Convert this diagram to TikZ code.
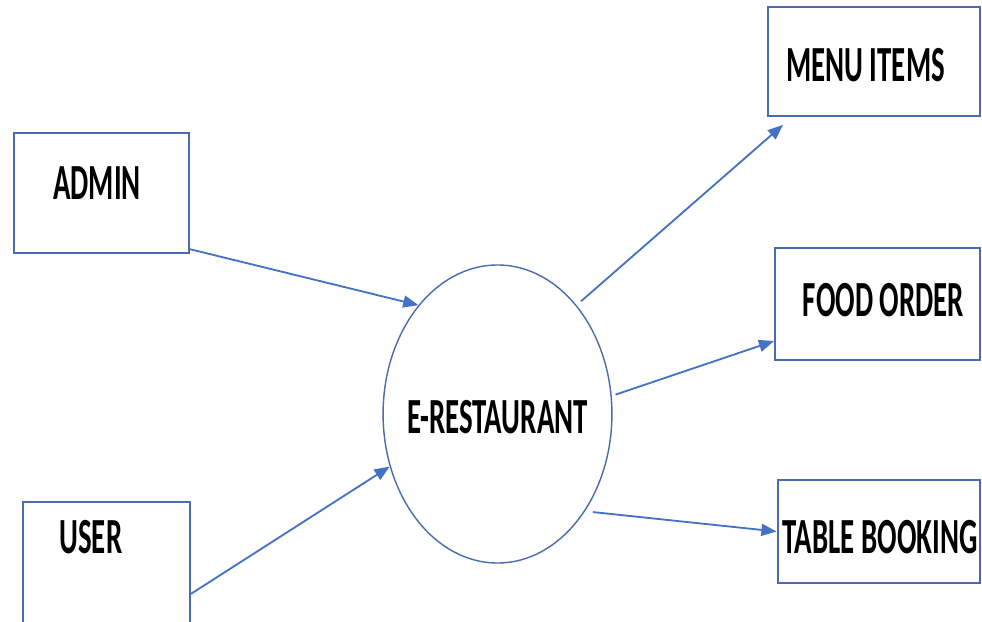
\documentclass[tikz,border=0pt]{standalone}
\usepackage{fontspec}
\newfontfamily\dfdfont[FakeStretch=0.57]{Carlito}
\usetikzlibrary{%
		arrows.meta%
		,shapes.geometric%
	}
\definecolor{boxblue}{HTML}{4A6CAE}
\definecolor{flowblue}{HTML}{4472C4}

\begin{document}
\begin{tikzpicture}[x=0.025cm, y=0.025cm,
		box/.style={draw=boxblue, line width=1.4pt, rectangle, inner sep=0pt},
		proc/.style={draw=boxblue, line width=1pt, ellipse, inner sep=0pt},
		txt/.style={font=\dfdfont\fontsize{36}{40}\selectfont\bfseries, text=black, inner sep=0pt},
		flow/.style={draw=flowblue, line width=1.3pt, -{Triangle[length=0.38cm, width=0.3cm]}}%
	]
			\clip (0,0) rectangle (982,621);
			\fill[white] (0,0) rectangle (982,621);
			
			% Process
			\node[proc, minimum width=5.72cm, minimum height=7.45cm, label={[txt, yshift=-0.07cm]center:E-RESTAURANT}] (restaurant) at (497.5,207) {};
			
			% External entities
			\node[box, minimum width=4.37cm, minimum height=3cm, label={[txt, xshift=-0.11cm, yshift=0.25cm]center:ADMIN}] (admin) at (101.5,428) {};
			\node[box, minimum width=4.17cm, minimum height=3.57cm, label={[txt, xshift=-0.39cm, yshift=0.91cm]center:USER}] (user) at (106.5,47.5) {};
			
			% Data stores
			\node[box, minimum width=5.3cm, minimum height=2.72cm, label={[txt, xshift=-0.21cm, yshift=-0.09cm]center:MENU ITEMS}] (menu) at (874,559.5) {};
			\node[box, minimum width=5.12cm, minimum height=2.8cm, label={[txt, xshift=0.15cm, yshift=0.1cm]center:FOOD ORDER}] (food) at (877.5,317) {};
			\node[box, minimum width=5.07cm, minimum height=2.57cm, label={[txt, xshift=0.03cm, yshift=-0.14cm]center:TABLE BOOKING}] (table) at (879,89.5) {};
			
			% Flows
			\draw[flow] ([yshift=0.12cm]admin.south east) -- (restaurant.126);
			\draw[flow] ([yshift=-0.51cm]user.east) -- (restaurant.206);
			\draw[flow, shorten <=0.15cm] (restaurant.54) -- ([shift={(0.4cm,-0.2cm)}]menu.south west);
			\draw[flow, shorten <=0.1cm] (restaurant.9) -- ([yshift=0.5cm]food.south west);
			\draw[flow, shorten <=0.2cm] (restaurant.-48) -- (table.west);
		\end{tikzpicture}
\end{document}
